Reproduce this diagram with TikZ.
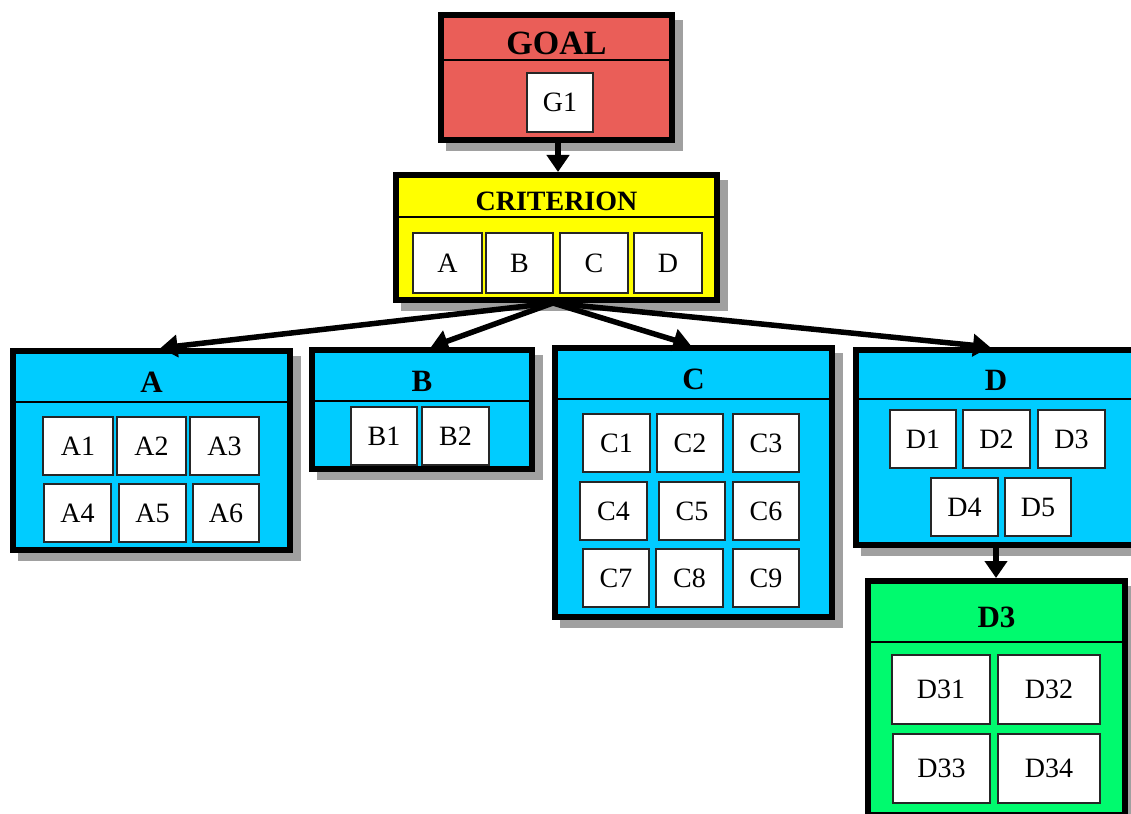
\documentclass[tikz,border=0pt]{standalone}
\usepackage{fontspec}
\setmainfont{Liberation Serif}
\usetikzlibrary{fit,arrows.meta,calc}
\definecolor{goalred}{RGB}{234,94,88}
\definecolor{crityellow}{RGB}{255,255,0}
\definecolor{subcyan}{RGB}{0,204,255}
\definecolor{subgreen}{RGB}{0,250,110}
\definecolor{shadowgray}{RGB}{160,160,160}
\tikzset{
  panel/.style={draw=black, line width=6pt, inner sep=0pt},
  divline/.style={draw=black, line width=2.5pt},
  cell/.style={draw=black!85, line width=2pt, fill=white, inner sep=0pt},
  celltext/.style={inner sep=0pt, font=\fontsize{28}{28}\selectfont},
  ttl/.style={inner sep=0pt},
  arr/.style={line width=5.5pt, -{Triangle[length=17pt,width=22pt]}},
}
% name, x1, y1, x2, y2, ydiv, colour, title, title size
\newcommand\mypanel[9]{%
  \fill[shadowgray] (#2+8,#3+8) rectangle (#4+8,#5+8);
  \node[panel, fill=#7, fit={(#2+3,#3+3) (#4-3,#5-3)}] (#1) {};
  \draw[divline] (#2+3,#6) -- (#4-3,#6);
  \node[ttl, font=\fontsize{#9}{#9}\selectfont\bfseries] (#1title) at ({(#2+#4)/2},{(#3+#6)/2+7}) {#8};
}
\newcommand\mycell[6]{%
  \node[cell, fit={(#2,#3) (#4,#5)}] (#1) {};
  \node[celltext] (#1txt) at (#1.center) {#6};
}
\begin{document}
\begin{tikzpicture}[x=1pt,y=-1pt]
\useasboundingbox (0,0) rectangle (1131,813);
\clip (0,0) rectangle (1131,813);
% GOAL
\mypanel{G}{438}{12}{675}{143}{60}{goalred}{GOAL}{34}
\mycell{G1}{527}{73}{593}{132}{G1}
% CRITERION
\mypanel{CR}{393}{172}{720}{303}{217}{crityellow}{CRITERION}{28}
\mycell{CA}{413}{233}{482}{293}{A}
\mycell{CB}{486}{233}{553}{293}{B}
\mycell{CC}{560}{233}{628}{293}{C}
\mycell{CD}{634}{233}{702}{293}{D}
% A
\mypanel{A}{10}{348}{293}{553}{402}{subcyan}{A}{31}
\mycell{A1}{43}{417}{113}{475}{A1}
\mycell{A2}{117}{417}{186}{475}{A2}
\mycell{A3}{190}{417}{259}{475}{A3}
\mycell{A4}{44}{484}{111}{542}{A4}
\mycell{A5}{119}{484}{186}{542}{A5}
\mycell{A6}{193}{484}{259}{542}{A6}
% B
\mypanel{B}{309}{347}{535}{472}{401}{subcyan}{B}{31}
\mycell{B1}{351}{407}{417}{465}{B1}
\mycell{B2}{422}{407}{489}{465}{B2}
% C
\mypanel{C}{552}{345}{835}{620}{399}{subcyan}{C}{31}
\mycell{C1}{583}{414}{650}{472}{C1}
\mycell{C2}{657}{414}{723}{472}{C2}
\mycell{C3}{733}{414}{799}{472}{C3}
\mycell{C4}{580}{482}{647}{540}{C4}
\mycell{C5}{659}{482}{725}{540}{C5}
\mycell{C6}{733}{482}{799}{540}{C6}
\mycell{C7}{583}{549}{649}{607}{C7}
\mycell{C8}{656}{549}{723}{607}{C8}
\mycell{C9}{733}{549}{799}{607}{C9}
% D
\mypanel{D}{853}{347}{1139}{548}{399}{subcyan}{D}{31}
\mycell{D1}{890}{410}{956}{468}{D1}
\mycell{D2}{963}{410}{1030}{468}{D2}
\mycell{D3}{1038}{410}{1105}{468}{D3}
\mycell{D4}{931}{478}{998}{536}{D4}
\mycell{D5}{1005}{478}{1071}{536}{D5}
% D3 sub
\mypanel{E}{865}{578}{1128}{818}{642}{subgreen}{D3}{31}
\mycell{D31}{892}{655}{990}{724}{D31}
\mycell{D32}{998}{655}{1100}{724}{D32}
\mycell{D33}{893}{734}{990}{803}{D33}
\mycell{D34}{998}{734}{1100}{803}{D34}
% arrows
\coordinate (cb) at (553,303);
\coordinate (Dtop) at (990,347);
\coordinate (gb) at (558,143);
\coordinate (crt) at (558,172);
\coordinate (db) at (996,548);
\coordinate (et) at (996,578);
\draw[arr] (gb) -- (crt);
\draw[arr] (cb) -- ($(A.north)+(9,0)$);
\draw[arr] (cb) -- ($(B.north)+(9,0)$);
\draw[arr] (cb) -- ($(C.north)+(-3,0)$);
\draw[arr] (cb) -- (Dtop);
\draw[arr] (db) -- (et);
\end{tikzpicture}
\end{document}
